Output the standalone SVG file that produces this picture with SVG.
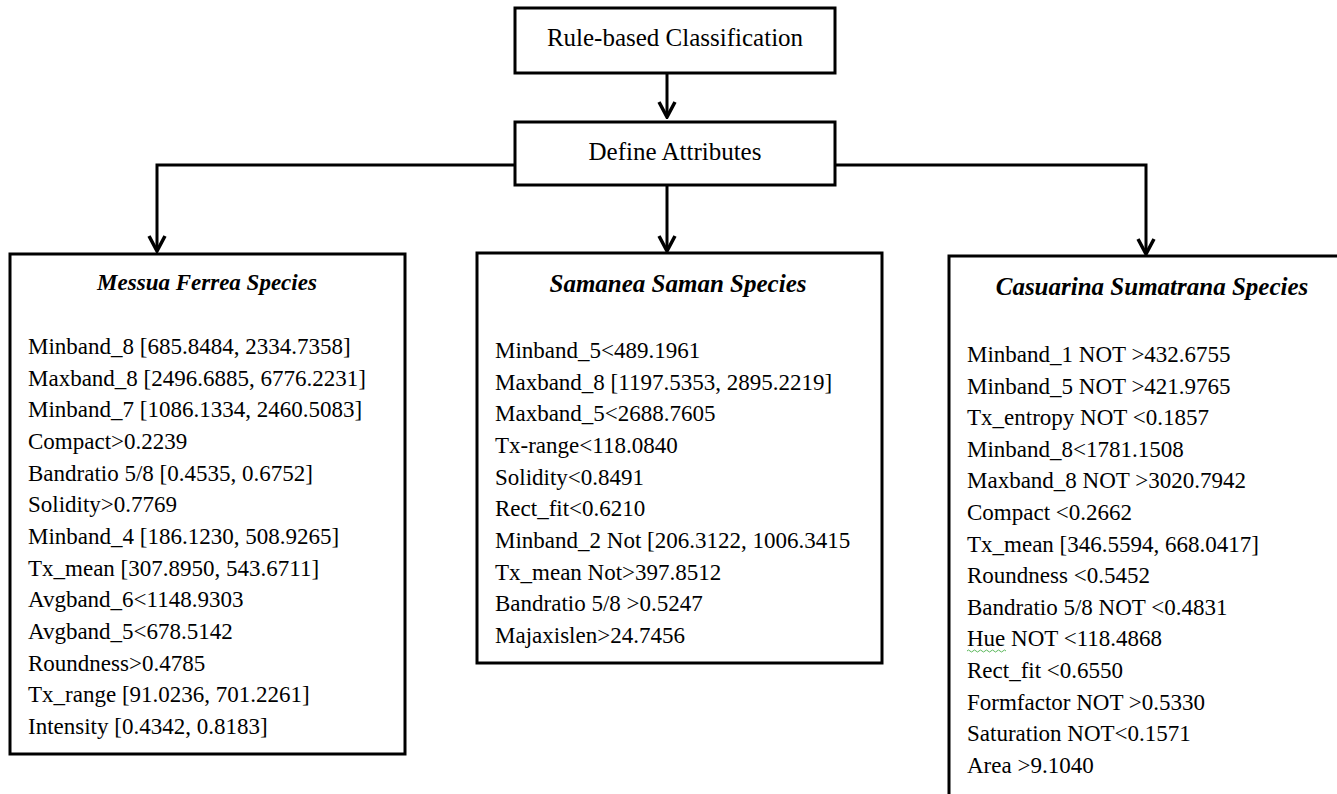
<svg xmlns="http://www.w3.org/2000/svg" width="1337" height="794" viewBox="0 0 1337 794">
<style>
.box{fill:#fff;stroke:#000;stroke-width:3}
.t{font-family:"Liberation Serif","Times New Roman",serif;fill:#000}
.hd{font-size:25px;text-anchor:middle}
.sp{font-weight:bold;font-style:italic;text-anchor:middle}
.it{font-size:23px}
.ln{fill:none;stroke:#000;stroke-width:3}
</style>
<defs>
<marker id="ah" viewBox="0 0 20 20" refX="18" refY="10" markerWidth="20" markerHeight="20" markerUnits="userSpaceOnUse" orient="auto">
<path d="M3,2 L18,10 L3,18" fill="none" stroke="#000" stroke-width="3.5"/>
</marker>
</defs>
<rect width="1337" height="794" fill="#fff"/>
<g id="connectors">
<path class="ln" d="M667,73 V117" marker-end="url(#ah)"/>
<path class="ln" d="M667,185 V251" marker-end="url(#ah)"/>
<path class="ln" d="M515,165 H157 V251" marker-end="url(#ah)"/>
<path class="ln" d="M835,165 H1146 V254" marker-end="url(#ah)"/>
</g>
<g id="rule">
<rect class="box" x="515" y="8" width="320" height="65"/>
<text class="t hd" x="675" y="46">Rule-based Classification</text>
</g>
<g id="define">
<rect class="box" x="515" y="122" width="320" height="63"/>
<text class="t hd" x="675" y="160">Define Attributes</text>
</g>
<g id="messua">
<rect class="box" x="10" y="254" width="395" height="500"/>
<text class="t sp" x="207" y="290" font-size="23">Messua Ferrea Species</text>
<g class="t it">
<text x="28" y="354">Minband_8 [685.8484, 2334.7358]</text>
<text x="28" y="385.7">Maxband_8 [2496.6885, 6776.2231]</text>
<text x="28" y="417.3">Minband_7 [1086.1334, 2460.5083]</text>
<text x="28" y="449">Compact&gt;0.2239</text>
<text x="28" y="480.7">Bandratio 5/8 [0.4535, 0.6752]</text>
<text x="28" y="512.3">Solidity&gt;0.7769</text>
<text x="28" y="544">Minband_4 [186.1230, 508.9265]</text>
<text x="28" y="575.7">Tx_mean [307.8950, 543.6711]</text>
<text x="28" y="607.3">Avgband_6&lt;1148.9303</text>
<text x="28" y="639">Avgband_5&lt;678.5142</text>
<text x="28" y="670.7">Roundness&gt;0.4785</text>
<text x="28" y="702.3">Tx_range [91.0236, 701.2261]</text>
<text x="28" y="734">Intensity [0.4342, 0.8183]</text>
</g>
</g>
<g id="samanea">
<rect class="box" x="477" y="253" width="405" height="410"/>
<text class="t sp" x="678" y="292" font-size="25">Samanea Saman Species</text>
<g class="t it">
<text x="495" y="358">Minband_5&lt;489.1961</text>
<text x="495" y="389.7">Maxband_8 [1197.5353, 2895.2219]</text>
<text x="495" y="421.3">Maxband_5&lt;2688.7605</text>
<text x="495" y="453">Tx-range&lt;118.0840</text>
<text x="495" y="484.7">Solidity&lt;0.8491</text>
<text x="495" y="516.3">Rect_fit&lt;0.6210</text>
<text x="495" y="548">Minband_2 Not [206.3122, 1006.3415</text>
<text x="495" y="579.7">Tx_mean Not&gt;397.8512</text>
<text x="495" y="611.3">Bandratio 5/8 &gt;0.5247</text>
<text x="495" y="643">Majaxislen&gt;24.7456</text>
</g>
</g>
<g id="casuarina">
<rect class="box" x="949" y="256" width="420" height="600"/>
<text class="t sp" x="1152" y="295" font-size="25">Casuarina Sumatrana Species</text>
<g class="t it">
<text x="967" y="362">Minband_1 NOT &gt;432.6755</text>
<text x="967" y="393.6">Minband_5 NOT &gt;421.9765</text>
<text x="967" y="425.2">Tx_entropy NOT &lt;0.1857</text>
<text x="967" y="456.8">Minband_8&lt;1781.1508</text>
<text x="967" y="488.4">Maxband_8 NOT &gt;3020.7942</text>
<text x="967" y="520">Compact &lt;0.2662</text>
<text x="967" y="551.6">Tx_mean [346.5594, 668.0417]</text>
<text x="967" y="583.2">Roundness &lt;0.5452</text>
<text x="967" y="614.8">Bandratio 5/8 NOT &lt;0.4831</text>
<text x="967" y="646.4">Hue NOT &lt;118.4868</text>
<text x="967" y="678">Rect_fit &lt;0.6550</text>
<text x="967" y="709.6">Formfactor NOT &gt;0.5330</text>
<text x="967" y="741.2">Saturation NOT&lt;0.1571</text>
<text x="967" y="772.8">Area &gt;9.1040</text>
</g>
<path d="M967,651 q1.5,-2 3,0 t3,0 t3,0 t3,0 t3,0 t3,0 t3,0 t3,0 t3,0 t3,0 t3,0 t3,0 t3,0" fill="none" stroke="#5cb85c" stroke-width="1"/>
</g>
</svg>
